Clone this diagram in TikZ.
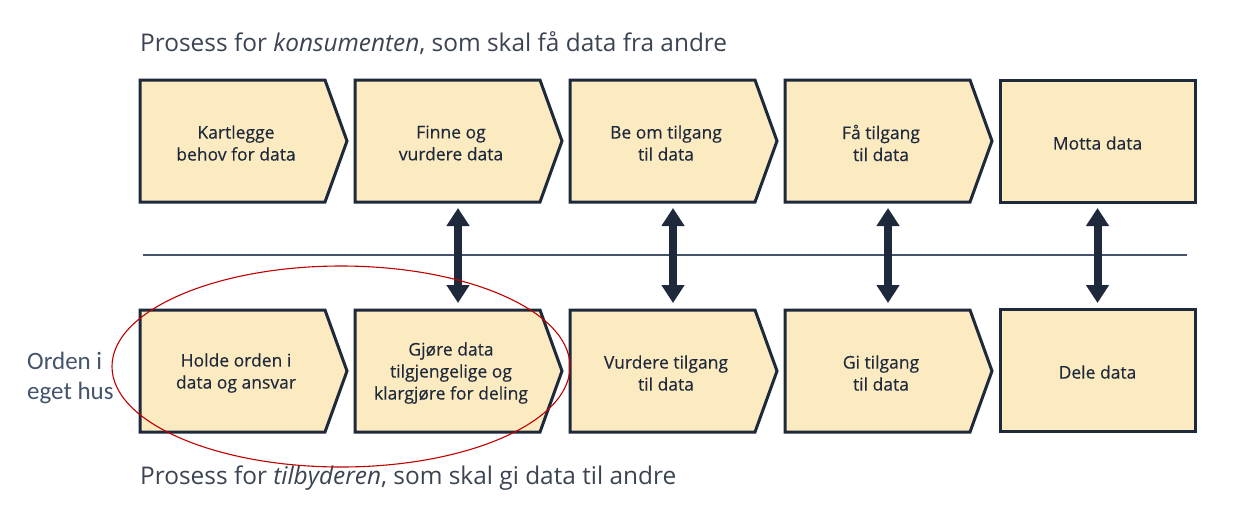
\documentclass[tikz,border=0pt]{standalone}
\usepackage{fontspec}
\setmainfont{Open Sans}
\newfontfamily\calib{Carlito}
\usetikzlibrary{arrows.meta}
\definecolor{boxfill}{HTML}{FCEBC1}
\definecolor{navy}{HTML}{1E293B}
\definecolor{titlegray}{HTML}{3B4552}
\definecolor{slate}{HTML}{44546A}
\definecolor{ellred}{HTML}{C00000}
\tikzset{
  boxtext/.style={draw=none, inner sep=0pt, outer sep=0pt, minimum width=185pt, minimum height=122pt,
    align=center, text=navy, font=\fontsize{17.5}{22}\selectfont\addfontfeature{FakeBold=0.3}},
  shapefill/.style={fill=boxfill, draw=navy, line width=3pt, line join=miter},
  dblarrow/.style={draw=navy, line width=8pt, {Triangle[width=22pt,length=18pt]}-{Triangle[width=22pt,length=18pt]}},
  title/.style={anchor=base west, inner sep=0pt, text=titlegray, font=\fontsize{24.4}{29}\selectfont},
}
\newcommand\chevshape[2]{% left x, top y
  \path[shapefill] (#1,#2) -- ++(185,0) -- ++(22,61) -- ++(-22,61) -- ++(-185,0) -- cycle;}
\newcommand\rectshape[2]{%
  \path[shapefill] (#1,#2) rectangle ++(195,122);}
\begin{document}
\begin{tikzpicture}[x=1pt,y=-1pt]
\useasboundingbox (0,0) rectangle (1238,531);
\fill[white] (0,0) rectangle (1238,531);

% titles
\node[title] (ttop) at (140,51) {Prosess for \textit{konsumenten}, som skal få data fra andre};
\node[title] (tbot) at (140,484) {Prosess for \textit{tilbyderen}, som skal gi data til andre};

% top row
\chevshape{140}{80}
\node[boxtext] (t1) at (236,143) {Kartlegge\\behov for data};
\chevshape{355}{80}
\node[boxtext] (t2) at (451,143) {Finne og\\vurdere data};
\chevshape{570}{80}
\node[boxtext] (t3) at (666,143) {Be om tilgang\\til data};
\chevshape{785}{80}
\node[boxtext] (t4) at (881,143) {Få tilgang\\til data};
\rectshape{1000}{80}
\node[boxtext, minimum width=195pt] (t5) at (1097.5,143) {Motta data};

% bottom row
\chevshape{140}{310}
\node[boxtext] (b1) at (236,373) {Holde orden i\\data og ansvar};
\chevshape{355}{310}
\node[boxtext] (b2) at (451,373) {Gjøre data\\tilgjengelige og\\klargjøre for deling};
\chevshape{570}{310}
\node[boxtext] (b3) at (666,373) {Vurdere tilgang\\til data};
\chevshape{785}{310}
\node[boxtext] (b4) at (881,373) {Gi tilgang\\til data};
\rectshape{1000}{309}
\node[boxtext, minimum width=195pt] (b5) at (1097.5,372) {Dele data};

% divider
\coordinate (l1) at (143,255);
\coordinate (l2) at (1187,255);
\draw[slate, line width=1.6pt] (l1) -- (l2);

% arrows
\draw[dblarrow] ([xshift=7pt,yshift=-4pt]t2.south) -- ([xshift=7pt,yshift=9pt]b2.north);
\draw[dblarrow] ([xshift=7pt,yshift=-4pt]t3.south) -- ([xshift=7pt,yshift=9pt]b3.north);
\draw[dblarrow] ([xshift=7pt,yshift=-4pt]t4.south) -- ([xshift=7pt,yshift=9pt]b4.north);
\draw[dblarrow] ([yshift=-4pt]t5.south) -- ([yshift=8pt]b5.north);

% side label
\node[anchor=base west, inner sep=0pt, text=slate, font=\calib\fontsize{25}{30}\selectfont, align=left] (side) at (27,369) {Orden i};
\node[anchor=base west, inner sep=0pt, text=slate, font=\calib\fontsize{25}{30}\selectfont] (side2) at (27,399) {eget hus};

% red ellipse
\draw[ellred, line width=1.1pt] (341,366.5) ellipse [x radius=229, y radius=100.5];
\end{tikzpicture}
\end{document}
